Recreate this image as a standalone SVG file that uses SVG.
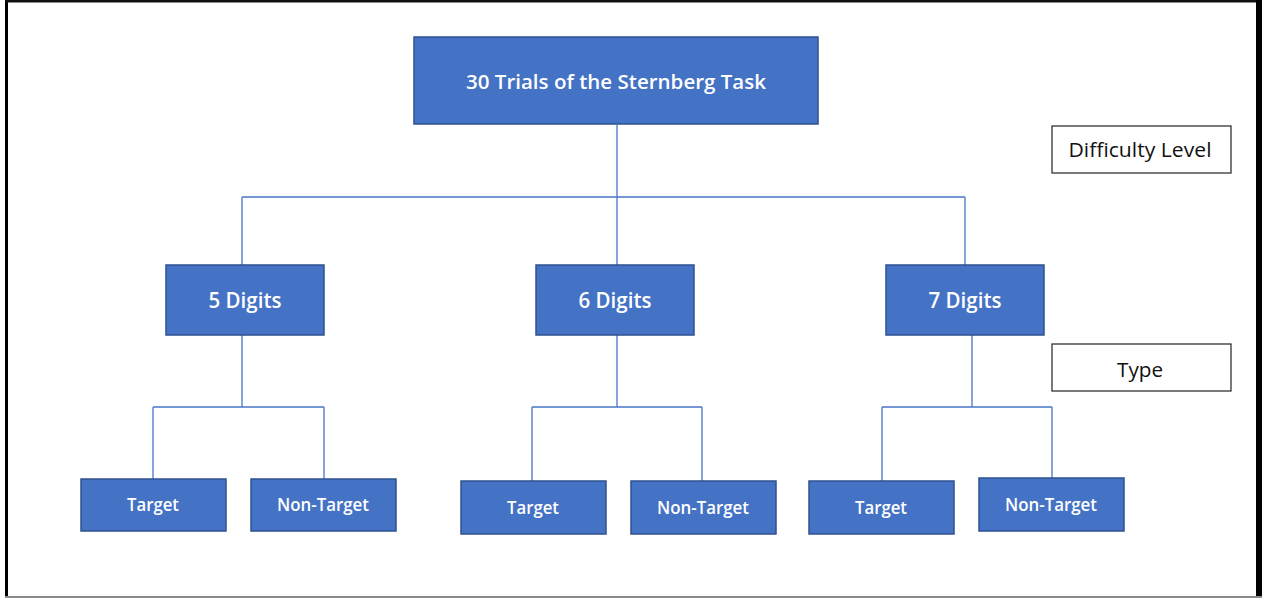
<svg xmlns="http://www.w3.org/2000/svg" width="1262" height="598" viewBox="0 0 1262 598">
  <style>
    .node rect { fill: #4472C4; stroke: #2F528F; stroke-width: 1.5; }
    .node text { fill: #FFFFFF; font-family: "Open Sans", "Liberation Sans", sans-serif; font-weight: 600; text-anchor: middle; }
    .legend rect { fill: #FFFFFF; stroke: #222222; stroke-width: 1.2; }
    .legend text { fill: #111111; font-family: "Open Sans", "Liberation Sans", sans-serif; font-size: 20px; text-anchor: middle; }
    .conn path { fill: none; stroke: #4A76C8; stroke-width: 1.3; }
  </style>

  <!-- page frame -->
  <rect x="0" y="0" width="1262" height="598" fill="#FFFFFF"/>
  <g id="frame">
    <rect x="5" y="0" width="3" height="598" fill="#000000"/>
    <rect x="5" y="0" width="1257" height="2.5" fill="#111111"/>
    <rect x="1256" y="0" width="6" height="598" fill="#000000"/>
    <rect x="5" y="596" width="1257" height="2" fill="#8A8A8A"/>
  </g>

  <!-- connectors -->
  <g id="connectors" class="conn">
    <path d="M617 125 V197 M242 197 H965 M242 197 V265 M617 197 V265 M965 197 V265"/>
    <path d="M242 335 V407 M153 407 H324 M153 407 V479 M324 407 V479"/>
    <path d="M617 335 V407 M532 407 H702 M532 407 V481 M702 407 V481"/>
    <path d="M972 335 V407 M882 407 H1052 M882 407 V481 M1052 407 V478"/>
  </g>

  <!-- root -->
  <g id="root" class="node">
    <rect x="414" y="37" width="404" height="87"/>
    <text x="616" y="89" font-size="20" textLength="300" lengthAdjust="spacingAndGlyphs">30 Trials of the Sternberg Task</text>
  </g>

  <!-- difficulty level -->
  <g id="digits5" class="node">
    <rect x="166" y="265" width="158" height="70"/>
    <text x="245" y="308" font-size="21" textLength="73" lengthAdjust="spacingAndGlyphs">5 Digits</text>
  </g>
  <g id="digits6" class="node">
    <rect x="536" y="265" width="158" height="70"/>
    <text x="615" y="308" font-size="21" textLength="73" lengthAdjust="spacingAndGlyphs">6 Digits</text>
  </g>
  <g id="digits7" class="node">
    <rect x="886" y="265" width="158" height="70"/>
    <text x="965" y="308" font-size="21" textLength="73" lengthAdjust="spacingAndGlyphs">7 Digits</text>
  </g>

  <!-- type -->
  <g id="target5" class="node">
    <rect x="81" y="479" width="145" height="52"/>
    <text x="153" y="511" font-size="18" textLength="52" lengthAdjust="spacingAndGlyphs">Target</text>
  </g>
  <g id="nontarget5" class="node">
    <rect x="251" y="479" width="145" height="52"/>
    <text x="323" y="511" font-size="18" textLength="92" lengthAdjust="spacingAndGlyphs">Non-Target</text>
  </g>
  <g id="target6" class="node">
    <rect x="461" y="481" width="145" height="53"/>
    <text x="533" y="514" font-size="18" textLength="52" lengthAdjust="spacingAndGlyphs">Target</text>
  </g>
  <g id="nontarget6" class="node">
    <rect x="631" y="481" width="145" height="53"/>
    <text x="703" y="514" font-size="18" textLength="92" lengthAdjust="spacingAndGlyphs">Non-Target</text>
  </g>
  <g id="target7" class="node">
    <rect x="809" y="481" width="145" height="53"/>
    <text x="881" y="514" font-size="18" textLength="52" lengthAdjust="spacingAndGlyphs">Target</text>
  </g>
  <g id="nontarget7" class="node">
    <rect x="979" y="478" width="145" height="53"/>
    <text x="1051" y="511" font-size="18" textLength="92" lengthAdjust="spacingAndGlyphs">Non-Target</text>
  </g>

  <!-- legend labels -->
  <g id="legend-difficulty" class="legend">
    <rect x="1052" y="126" width="179" height="47"/>
    <text x="1140" y="157" textLength="143" lengthAdjust="spacingAndGlyphs">Difficulty Level</text>
  </g>
  <g id="legend-type" class="legend">
    <rect x="1052" y="344" width="179" height="47"/>
    <text x="1140" y="377" textLength="46" lengthAdjust="spacingAndGlyphs">Type</text>
  </g>
</svg>
